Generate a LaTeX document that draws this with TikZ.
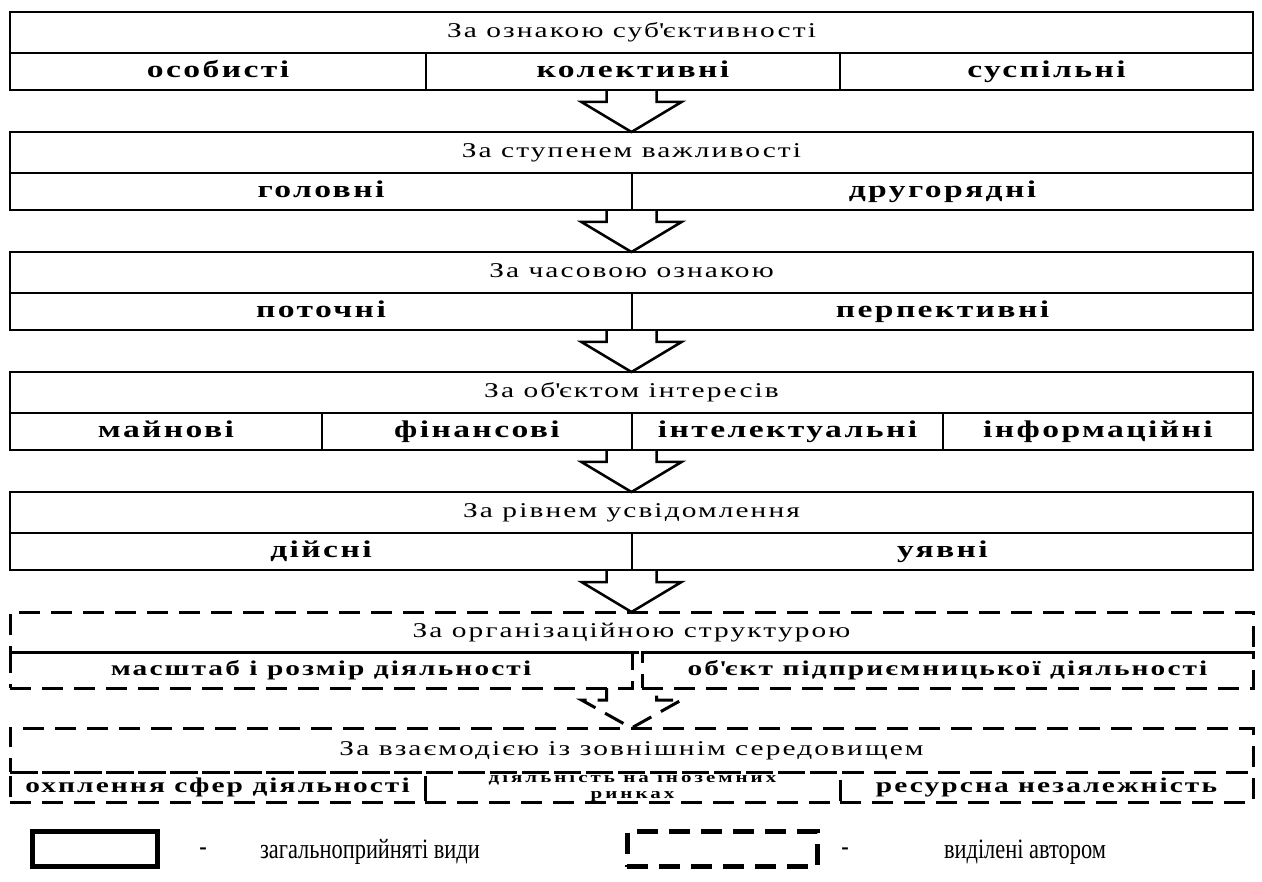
\documentclass[tikz,border=0pt]{standalone}
\usepackage{fontspec}
\setmainfont{Liberation Serif}
\newfontfamily\wide[FakeStretch=1.4,LetterSpace=10]{Liberation Serif}
\newfontfamily\narrowfont[FakeStretch=0.8]{Liberation Serif}
\usetikzlibrary{calc}
\newcommand{\ap}{\textquotesingle}
\begin{document}
\begin{tikzpicture}[x=1pt,y=-1pt,line join=miter,
	head/.style={draw,line width=2.5pt,minimum width=1243,minimum height=41,anchor=north west,inner sep=0pt,outer sep=0pt,text height=14,text depth=4,font=\wide\fontsize{21}{23}\selectfont},
	kind/.style={draw,line width=2.5pt,minimum width=#1,minimum height=37,anchor=north west,inner sep=0pt,outer sep=0pt,text height=16,text depth=4,font=\wide\bfseries\fontsize{24}{26}\selectfont},
	ours/.style={dash pattern=on 21pt off 11pt,line width=3pt},
	lesser/.style={font=\wide\bfseries\fontsize{21}{23}\selectfont,text height=14},
	arr/.style={draw,line width=2.5pt},
	legend/.style={font=\narrowfont\fontsize{28}{30}\selectfont}]
	\useasboundingbox (0,0) rectangle (1262,882);
	% blocks drawn from top to bottom
	\node[head] (t1) at (10,12) {За ознакою суб\ap єктивності};
	\node[kind=416] (s11) at (10,53) {особисті};
	\node[kind=414] (s12) at (426,53) {колективні};
	\node[kind=413] (s13) at (840,53) {суспільні};
	\coordinate (e1) at (631.5,90);
	\node[head] (t2) at (10,132) {За ступенем важливості};
	\node[kind=622] (s21) at (10,173) {головні};
	\node[kind=621] (s22) at (632,173) {другорядні};
	\coordinate (e2) at (631.5,210);
	\node[head] (t3) at (10,252) {За часовою ознакою};
	\node[kind=622] (s31) at (10,293) {поточні};
	\node[kind=621] (s32) at (632,293) {перпективні};
	\coordinate (e3) at (631.5,330);
	\node[head] (t4) at (10,372) {За об\ap єктом інтересів};
	\node[kind=312] (s41) at (10,413) {майнові};
	\node[kind=310] (s42) at (322,413) {фінансові};
	\node[kind=311] (s43) at (632,413) {інтелектуальні};
	\node[kind=310] (s44) at (943,413) {інформаційні};
	\coordinate (e4) at (631.5,450);
	\node[head] (t5) at (10,492) {За рівнем усвідомлення};
	\node[kind=622] (s51) at (10,533) {дійсні};
	\node[kind=621] (s52) at (632,533) {уявні};
	\coordinate (e5) at (631.5,570);
	\node[head,ours,minimum height=40] (t6) at (10,612) {За організаційною структурою};
	\node[kind=622,ours,lesser,minimum height=36] (s61) at (10,652) {масштаб і розмір діяльності};
	\node[kind=611,ours,lesser,minimum height=36] (s62) at (642,652) {об\ap єкт підприємницької діяльності};
	\coordinate (e6) at (631.5,688);
	\node[head,ours,minimum height=44] (t7) at (10,728) {За взаємодією із зовнішнім середовищем};
	\node[kind=415,ours,lesser,minimum height=30] (s71) at (10,772) {охплення сфер діяльності};
	\node[kind=415,ours,minimum height=30,align=center,text height={},text depth={},font=\wide\bfseries\fontsize{15}{16}\selectfont\addfontfeature{LetterSpace=20}] (s72) at (425,772) {діяльність на іноземних\\ринках};
	\node[kind=413,ours,lesser,minimum height=30] (s73) at (840,772) {ресурсна незалежність};
	% arrows between blocks
	\foreach \a/\b in {e1/t2,e2/t3,e3/t4,e4/t5,e5/t6}
		\draw[arr] ($(\a)+(-25,0)$) -- ++(0,12) -- ++(-25,0) -- (\b.north) -- ($(\a)+(50,12)$) -- ++(-25,0) -- ++(0,-12);
	\draw[arr,ours] ($(e6)+(-25,0)$) -- ++(0,12) -- ++(-25,0) -- (t7.north) -- ($(e6)+(50,12)$) -- ++(-25,0) -- ++(0,-12);
	% legend
	\node[draw,line width=5pt,minimum width=125,minimum height=35] (l1) at (95,849) {};
	\node[legend] (d1) at (203,852) {-};
	\node[legend] (x1) at (370,852) {загальноприйняті види};
	\node[draw,ours,line width=5pt,minimum width=190,minimum height=35] (l2) at (722,849) {};
	\node[legend] (d2) at (845,852) {-};
	\node[legend] (x2) at (1025,852) {виділені автором};
\end{tikzpicture}
\end{document}
